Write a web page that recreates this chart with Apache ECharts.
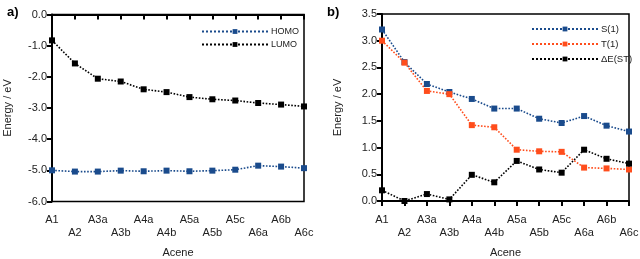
<!DOCTYPE html>
<html><head><meta charset="utf-8">
<script src="https://cdn.jsdelivr.net/npm/echarts@6/dist/echarts.min.js"></script>
<style>html,body{margin:0;padding:0;background:#fff}#c{width:640px;height:259px}</style>
</head><body><div id="c"></div>
<script>
const categories = ['A1','A2','A3a','A3b','A4a','A4b','A5a','A5b','A5c','A6a','A6b','A6c'];
const homo = [-5.00,-5.04,-5.04,-5.01,-5.03,-5.01,-5.03,-5.01,-4.98,-4.85,-4.88,-4.93];
const lumo = [-0.83,-1.57,-2.06,-2.15,-2.40,-2.49,-2.65,-2.72,-2.76,-2.84,-2.89,-2.95];
const s1 = [3.21,2.60,2.19,2.04,1.91,1.73,1.73,1.54,1.46,1.59,1.41,1.30];
const t1 = [3.00,2.59,2.06,2.00,1.42,1.38,0.96,0.93,0.92,0.625,0.61,0.59];
const dEst = [0.20,0.00,0.13,0.03,0.49,0.35,0.75,0.59,0.53,0.96,0.79,0.70];

const BLUE = '#1a4b8c', RED = '#ff4d1c', BLACK = '#000';
const FONT = 'Liberation Sans';
const chart = echarts.init(document.getElementById('c'), null, {renderer:'canvas'});

function xAx(gi){
  return {type:'category', gridIndex:gi, data:categories, boundaryGap:false,
    name:'Acene', nameLocation:'middle', nameGap:46,
    nameTextStyle:{fontFamily:FONT,fontSize:11,color:'#222'},
    axisLine:{lineStyle:{color:'#000',width:2}},
    axisTick:{alignWithLabel:true,length:5,lineStyle:{width:2,color:'#000'},interval:0},
    axisLabel:{interval:0,fontFamily:FONT,fontSize:11,color:'#222',margin:12,lineHeight:13,
      formatter:(v,i)=> i%2===1 ? '\n'+v : v},
    splitLine:{show:false}};
}
function yAx(gi,min,max,interval){
  return {type:'value', gridIndex:gi, min:min, max:max, interval:interval,
    name:'Energy / eV', nameLocation:'middle', nameGap:39,
    nameTextStyle:{fontFamily:FONT,fontSize:11,color:'#222'},
    axisLine:{show:true,lineStyle:{color:'#000',width:2}},
    axisTick:{show:true,length:5,lineStyle:{width:2,color:'#000'}},
    axisLabel:{fontFamily:FONT,fontSize:11,color:'#222',margin:5,formatter:v=>v.toFixed(1)},
    splitLine:{show:false}};
}
function ser(name,data,color,xi){
  return {name:name,type:'line',xAxisIndex:xi,yAxisIndex:xi,data:data,
    symbol:'rect',symbolSize:6,color:color,
    lineStyle:{type:'dotted',width:1.6,color:color},
    itemStyle:{color:color}, animation:false};
}
chart.setOption({
  animation:false,
  title:[
    {text:'a)',left:2,top:1,textStyle:{fontFamily:FONT,fontSize:13,fontWeight:'bold',color:'#000'}},
    {text:'b)',left:322,top:1,textStyle:{fontFamily:FONT,fontSize:13,fontWeight:'bold',color:'#000'}}
  ],
  grid:[
    {left:52,top:14.5,width:252,height:187,show:true,borderColor:'#000',borderWidth:1.5,backgroundColor:'transparent',containLabel:false,outerBoundsMode:'none'},
    {left:382,top:14,width:247,height:187,show:true,borderColor:'#000',borderWidth:1.5,backgroundColor:'transparent',containLabel:false,outerBoundsMode:'none'}
  ],
  legend:[
    {data:['HOMO','LUMO'],left:196,top:22,orient:'vertical',itemWidth:66,itemHeight:6,itemGap:4,
     textStyle:{fontFamily:FONT,fontSize:9,color:'#222',padding:[0,0,0,-2]}},
    {data:['S(1)','T(1)','ΔE(ST)'],left:526,top:19,orient:'vertical',itemWidth:66,itemHeight:6,itemGap:5,
     textStyle:{fontFamily:FONT,fontSize:9.5,color:'#222',padding:[0,0,0,-2]}}
  ],
  xAxis:[xAx(0),xAx(1)],
  yAxis:[yAx(0,-6,0,1),yAx(1,0,3.5,0.5)],
  series:[
    ser('HOMO',homo,BLUE,0),
    ser('LUMO',lumo,BLACK,0),
    ser('S(1)',s1,BLUE,1),
    ser('T(1)',t1,RED,1),
    ser('ΔE(ST)',dEst,BLACK,1)
  ]
});
</script></body></html>
